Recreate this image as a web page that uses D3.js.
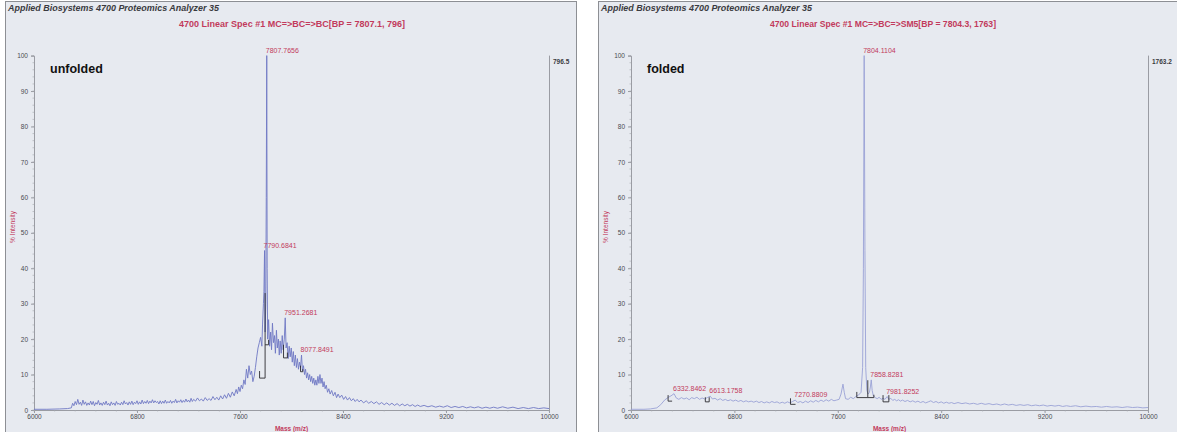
<!DOCTYPE html>
<html>
<head>
<meta charset="utf-8">
<script src="https://cdn.jsdelivr.net/npm/d3@7"></script>
<style>
  html, body { margin: 0; padding: 0; background: #ffffff; }
  svg { display: block; font-family: "Liberation Sans", Arial, sans-serif; }
</style>
</head>
<body>
<svg id="chart" width="1177" height="432"></svg>
<script>
// ---- axis ticks ----
const massTicks = [6000, 6800, 7600, 8400, 9200, 10000];
const intensityTicks = [0, 10, 20, 30, 40, 50, 60, 70, 80, 90, 100];

// ---- unfolded sample: [m/z, % intensity] ----
const unfoldedSpectrum = [
  [6000,0.2],[6100,0.2],[6200,0.3],[6260,0.4],[6290,0.6],[6300,1.9],[6310,1.2],[6320,2.4],[6330,1.5],[6340,3.0],
  [6350,1.6],[6360,2.2],[6370,1.3],[6380,2.8],[6390,1.6],[6400,2.3],[6410,1.3],[6420,2.0],[6430,1.4],[6440,2.5],
  [6450,1.5],[6460,2.4],[6470,1.2],[6480,2.1],[6490,1.6],[6500,2.7],[6510,1.4],[6520,2.0],[6530,1.3],[6540,2.2],
  [6550,1.5],[6560,2.5],[6570,1.4],[6580,1.9],[6590,1.2],[6600,2.3],[6610,1.5],[6620,2.0],[6630,1.3],[6640,2.4],
  [6650,1.6],[6660,1.9],[6670,1.4],[6680,2.2],[6690,1.5],[6700,2.6],[6710,1.7],[6720,2.1],[6730,1.4],[6740,2.3],
  [6750,1.6],[6760,2.5],[6770,1.5],[6780,2.2],[6790,1.8],[6800,2.6],[6810,1.6],[6820,2.3],[6830,1.7],[6840,2.8],
  [6850,1.8],[6860,2.4],[6870,1.9],[6880,2.7],[6890,1.8],[6900,2.5],[6910,2.0],[6920,2.9],[6930,2.0],[6940,2.6],
  [6950,2.1],[6960,2.4],[6970,1.7],[6980,2.6],[6990,1.8],[7000,2.5],[7010,1.9],[7020,2.8],[7030,1.9],[7040,2.4],
  [7050,2.0],[7060,2.7],[7070,1.9],[7080,2.5],[7090,2.1],[7100,3.0],[7110,2.0],[7120,2.6],[7130,2.2],[7140,2.9],
  [7150,2.1],[7160,2.7],[7170,2.2],[7180,3.1],[7190,2.3],[7200,2.8],[7210,2.2],[7220,3.3],[7230,2.4],[7240,3.0],
  [7255,2.5],[7270,3.4],[7285,2.6],[7300,3.1],[7315,2.5],[7330,3.5],[7345,2.7],[7360,3.2],[7375,2.7],[7390,3.8],
  [7405,2.9],[7420,3.6],[7435,2.8],[7450,4.0],[7465,3.1],[7480,4.3],[7495,3.3],[7510,4.7],[7525,3.6],[7540,5.1],
  [7555,4.0],[7570,5.8],[7580,4.6],[7590,6.5],[7600,5.2],[7610,7.0],[7620,6.0],[7630,8.5],[7640,7.2],[7650,11.5],
  [7660,9.0],[7670,12.5],[7680,10.0],[7690,11.0],[7700,8.0],[7710,9.5],[7720,12.0],[7730,15.0],[7740,17.5],[7750,19.0],
  [7760,20.5],[7770,18.0],[7775,24.0],[7782,30.0],[7786,33.5],[7790.6841,45.0],[7795,22.0],[7800,30.0],[7804,60.0],[7807.7656,100],
  [7811,40.0],[7815,20.0],[7822,25.5],[7830,18.0],[7838,22.0],[7845,17.0],[7852,24.5],[7860,19.0],[7868,21.0],[7875,16.0],
  [7883,22.5],[7890,17.5],[7898,20.0],[7905,15.5],[7912,19.5],[7920,16.0],[7928,21.0],[7935,17.0],[7944,20.0],[7951.2681,26.0],
  [7958,17.5],[7966,19.0],[7974,14.5],[7982,18.0],[7990,15.0],[7998,17.5],[8006,13.5],[8014,16.5],[8022,12.5],[8030,15.5],
  [8038,12.0],[8046,14.5],[8054,11.5],[8062,13.5],[8070,12.0],[8077.8491,15.5],[8085,11.0],[8093,12.5],[8101,10.0],[8109,11.5],
  [8117,9.0],[8125,10.5],[8133,8.5],[8141,10.0],[8149,8.0],[8157,9.5],[8165,7.5],[8173,9.0],[8181,7.0],[8189,8.5],
  [8197,7.0],[8205,9.5],[8213,7.5],[8221,10.0],[8229,7.5],[8237,9.0],[8245,6.5],[8253,8.0],[8261,6.0],[8270,7.0],
  [8280,5.0],[8290,6.0],[8300,4.5],[8312,5.5],[8325,4.0],[8338,5.0],[8350,3.5],[8362,4.5],[8375,3.5],[8390,4.2],
  [8405,3.0],[8420,3.8],[8435,2.8],[8450,3.5],[8465,2.6],[8480,3.2],[8495,2.4],[8510,3.0],[8525,2.3],[8540,2.8],
  [8560,2.0],[8580,2.6],[8600,1.9],[8620,2.4],[8640,1.8],[8660,2.3],[8680,1.6],[8700,2.1],[8720,1.5],[8740,2.0],
  [8760,1.4],[8780,1.9],[8800,1.3],[8820,1.8],[8840,1.2],[8860,1.7],[8880,1.2],[8900,1.6],[8920,1.1],[8940,1.5],
  [8960,1.0],[8980,1.4],[9000,1.0],[9030,1.3],[9060,0.9],[9090,1.2],[9120,0.8],[9150,1.1],[9180,0.8],[9210,1.2],
  [9240,0.7],[9270,1.0],[9300,0.7],[9330,1.0],[9360,0.6],[9390,0.9],[9420,0.6],[9450,0.9],[9480,0.5],[9510,0.8],
  [9540,0.5],[9570,0.8],[9600,0.5],[9640,0.9],[9680,0.5],[9720,0.8],[9760,0.4],[9800,0.7],[9840,0.4],[9880,0.7],
  [9920,0.4],[9960,0.6],[10000,0.4]
];
// labelled peaks: [m/z, % intensity]
const unfoldedPeaks = [[7807.7656,100],[7790.6841,45.0],[7951.2681,26.0],[8077.8491,15.5]];
// peak area brackets: [start m/z, end m/z, base %, left tip %, right tip %]
const unfoldedBrackets = [
  [7752,7795,9.0,11.0,33.0],[7795,7822,18.4,18.4,19.8],[7938,7968,14.7,18.4,16.2],[8070,8088,10.8,12.5,11.5]
];

// ---- folded sample: [m/z, % intensity] ----
const foldedSpectrum = [
  [6000,0.2],[6100,0.2],[6150,0.3],[6200,0.6],[6230,1.5],[6260,2.8],[6290,3.6],[6310,4.0],[6332.8462,4.6],[6350,3.4],
  [6370,3.0],[6390,3.5],[6410,3.1],[6430,3.4],[6450,2.9],[6470,3.5],[6490,3.2],[6510,3.6],[6530,3.0],[6550,3.4],
  [6570,3.1],[6590,3.5],[6613.1758,3.9],[6630,3.1],[6650,3.3],[6670,2.8],[6690,3.2],[6710,2.7],[6730,3.0],[6750,2.6],
  [6770,2.9],[6790,2.5],[6810,2.8],[6830,2.4],[6850,2.7],[6870,2.3],[6890,2.6],[6910,2.3],[6930,2.5],[6950,2.2],
  [6970,2.5],[6990,2.1],[7010,2.4],[7030,2.0],[7050,2.3],[7070,2.0],[7090,2.4],[7110,2.1],[7130,2.3],[7150,1.9],
  [7170,2.2],[7190,1.9],[7210,2.3],[7230,2.0],[7250,2.4],[7270.8809,2.8],[7290,2.1],[7310,2.4],[7330,2.0],[7350,2.5],
  [7370,2.1],[7390,2.6],[7410,2.2],[7430,2.7],[7450,2.3],[7470,2.8],[7490,2.4],[7510,2.9],[7530,2.5],[7550,3.0],
  [7570,2.6],[7590,2.8],[7610,3.0],[7625,4.5],[7640,7.3],[7650,5.0],[7660,3.2],[7680,3.0],[7700,3.6],[7720,3.2],
  [7740,3.8],[7760,4.2],[7780,5.0],[7792,12.0],[7798,40.0],[7804.1104,100],[7810,45.0],[7816,12.0],[7825,5.5],[7835,4.5],
  [7845,5.0],[7852,6.5],[7858.8281,8.5],[7866,5.5],[7875,4.0],[7890,3.5],[7905,3.2],[7920,3.6],[7935,3.0],[7950,3.3],
  [7965,3.0],[7981.8252,3.8],[7995,3.0],[8010,3.3],[8025,2.7],[8040,3.0],[8055,2.6],[8070,2.9],[8085,2.5],[8100,2.8],
  [8120,2.4],[8140,2.7],[8160,2.3],[8180,2.6],[8200,2.2],[8220,2.5],[8240,2.1],[8260,2.4],[8280,2.0],[8300,2.3],
  [8320,2.6],[8340,2.1],[8360,2.4],[8380,2.0],[8400,2.3],[8420,1.9],[8440,2.2],[8460,1.9],[8480,2.1],[8500,1.8],
  [8530,2.1],[8560,1.8],[8590,2.0],[8620,1.7],[8650,1.9],[8680,1.6],[8710,1.9],[8740,1.6],[8770,1.8],[8800,1.5],
  [8830,1.7],[8860,1.4],[8890,1.7],[8920,1.4],[8950,1.6],[8980,1.3],[9010,1.5],[9040,1.3],[9070,1.5],[9100,1.2],
  [9130,1.4],[9160,1.2],[9190,1.4],[9220,1.1],[9250,1.3],[9280,1.1],[9310,1.3],[9340,1.0],[9370,1.2],[9400,1.0],
  [9440,1.2],[9480,0.9],[9520,1.1],[9560,0.9],[9600,1.0],[9640,0.8],[9680,1.0],[9720,0.8],[9760,0.9],[9800,0.7],
  [9840,0.9],[9880,0.7],[9920,0.8],[9960,0.6],[10000,0.7]
];
const foldedPeaks = [[7804.1104,100],[6332.8462,4.6],[6613.1758,3.9],[7270.8809,2.8],[7858.8281,8.5],[7981.8252,3.8]];
const foldedBrackets = [
  [6287,6318,2.5,4.2,2.5],[6575,6605,2.3,3.6,3.6],[7234,7273,1.6,3.3,1.6],
  [7747,7832,3.5,5.1,8.4],[7832,7879,3.5,3.5,4.3],[7950,7995,2.3,4.2,4.2]
];

// ---- panel texts ----
const instrumentTitle = "Applied Biosystems 4700 Proteomics Analyzer 35";
const specTitles = ["4700 Linear Spec #1 MC=>BC=>BC[BP = 7807.1, 796]", "4700 Linear Spec #1 MC=>BC=>SM5[BP = 7804.3, 1763]"];
const sampleNames = ["unfolded", "folded"];
const maxCounts = ["796.5", "1763.2"];

const RED = "#c23a5c";
const svg = d3.select("#chart");

function drawPanel(cfg) {
  const g = svg.append("g");
  // frame
  g.append("rect")
    .attr("x", cfg.frameX + 0.5).attr("y", 1.5)
    .attr("width", cfg.frameW).attr("height", 450)
    .attr("fill", "#e7eaf0").attr("stroke", "#8d8f94").attr("stroke-width", 1);

  const x = d3.scaleLinear().domain([6000, 10000]).range([cfg.x0, cfg.x1]);
  const y = d3.scaleLinear().domain([0, 100]).range([410, 55.6]);

  // instrument and spectrum titles
  g.append("text").attr("x", cfg.frameX + 3).attr("y", 11)
    .attr("font-size", 9.5).attr("font-weight", "bold").attr("font-style", "italic")
    .attr("fill", "#3a3a40").attr("textLength", 211).attr("lengthAdjust", "spacingAndGlyphs")
    .text(instrumentTitle);
  g.append("text").attr("x", cfg.subX).attr("y", 27)
    .attr("font-size", 9.5).attr("font-weight", "bold").attr("fill", RED)
    .attr("textLength", 226).attr("lengthAdjust", "spacingAndGlyphs")
    .text(cfg.subtitle);

  // y axis
  const yAxis = d3.axisLeft(y).tickValues(intensityTicks).tickSize(3).tickPadding(3);
  const ya = g.append("g").attr("transform", `translate(${cfg.x0},0)`).call(yAxis);
  ya.select(".domain").attr("stroke", "#9a9ca3");
  ya.selectAll(".tick line").attr("stroke", "#9a9ca3");
  ya.selectAll("text").attr("font-size", 6.5).attr("fill", "#4a4a50")
    .attr("font-family", "'Liberation Sans', Arial, sans-serif");
  // minor ticks
  g.append("g").selectAll("line").data(d3.range(0, 101, 2)).join("line")
    .attr("x1", cfg.x0 - 1.5).attr("x2", cfg.x0).attr("y1", d => y(d)).attr("y2", d => y(d))
    .attr("stroke", "#a5a7ad").attr("stroke-width", 0.6);

  // x axis
  const xAxis = d3.axisBottom(x).tickValues(massTicks).tickSize(3).tickPadding(1).tickFormat(d3.format("d"));
  const xa = g.append("g").attr("transform", `translate(0,${y(0)})`).call(xAxis);
  xa.select(".domain").attr("stroke", "#9a9ca3");
  xa.selectAll(".tick line").attr("stroke", "#9a9ca3");
  xa.selectAll("text").attr("font-size", 6.5).attr("fill", "#4a4a50")
    .attr("font-family", "'Liberation Sans', Arial, sans-serif");
  g.append("g").selectAll("line").data(d3.range(6000, 10001, 160)).join("line")
    .attr("x1", d => x(d)).attr("x2", d => x(d)).attr("y1", y(0)).attr("y2", y(0) + 1.5)
    .attr("stroke", "#a5a7ad").attr("stroke-width", 0.6);

  // right edge marker with max count
  g.append("line").attr("x1", cfg.x1 + 0.5).attr("x2", cfg.x1 + 0.5).attr("y1", y(100)).attr("y2", y(0))
    .attr("stroke", "#9a9ca3").attr("stroke-width", 1);
  g.append("text").attr("x", cfg.x1 + 4).attr("y", y(100) + 8)
    .attr("font-size", 6.5).attr("font-weight", "bold").attr("fill", "#3a3a40").text(cfg.maxCount);

  // axis titles
  g.append("text").attr("transform", `translate(${cfg.frameX + 10},${227}) rotate(-90)`)
    .attr("text-anchor", "middle").attr("font-size", 6.5).attr("fill", RED).text("% Intensity");
  g.append("text").attr("x", (cfg.x0 + cfg.x1) / 2).attr("y", 431)
    .attr("text-anchor", "middle").attr("font-size", 6.5).attr("font-weight", "bold").attr("fill", RED).text("Mass (m/z)");

  // sample name
  g.append("text").attr("x", cfg.x0 + 16).attr("y", 73)
    .attr("font-size", 12.5).attr("font-weight", "bold").attr("fill", "#111")
    .attr("font-family", "Arial, 'Liberation Sans', sans-serif").text(cfg.name);

  // spectrum trace
  const line = d3.line().x(d => x(d[0])).y(d => y(d[1]));
  g.append("path").datum(cfg.spectrum).attr("d", line)
    .attr("fill", "none").attr("stroke", cfg.traceColor).attr("stroke-width", 0.9)
    .attr("stroke-linejoin", "round");

  // peak area brackets
  const bracket = b => {
    const [m0, m1, base, lt, rt] = b;
    return `M${x(m0)},${y(lt)}V${y(base)}H${x(m1)}V${y(rt)}`;
  };
  g.append("g").selectAll("path").data(cfg.brackets).join("path")
    .attr("d", bracket).attr("fill", "none").attr("stroke", "#2b2b30").attr("stroke-width", 0.9);

  // peak labels
  g.append("g").selectAll("text").data(cfg.peaks).join("text")
    .attr("x", d => x(d[0]) - 1).attr("y", d => y(d[1]) - 3)
    .attr("font-size", 7).attr("fill", RED)
    .text(d => d[0].toFixed(4));
}

drawPanel({
  frameX: 5, frameW: 571, x0: 34, x1: 549, subX: 179,
  subtitle: specTitles[0], name: sampleNames[0], maxCount: maxCounts[0],
  spectrum: unfoldedSpectrum, peaks: unfoldedPeaks, brackets: unfoldedBrackets,
  traceColor: "#6f78c4"
});
drawPanel({
  frameX: 598, frameW: 600, x0: 631, x1: 1148, subX: 770,
  subtitle: specTitles[1], name: sampleNames[1], maxCount: maxCounts[1],
  spectrum: foldedSpectrum, peaks: foldedPeaks, brackets: foldedBrackets,
  traceColor: "#9aa2d6"
});
</script>
</body>
</html>
